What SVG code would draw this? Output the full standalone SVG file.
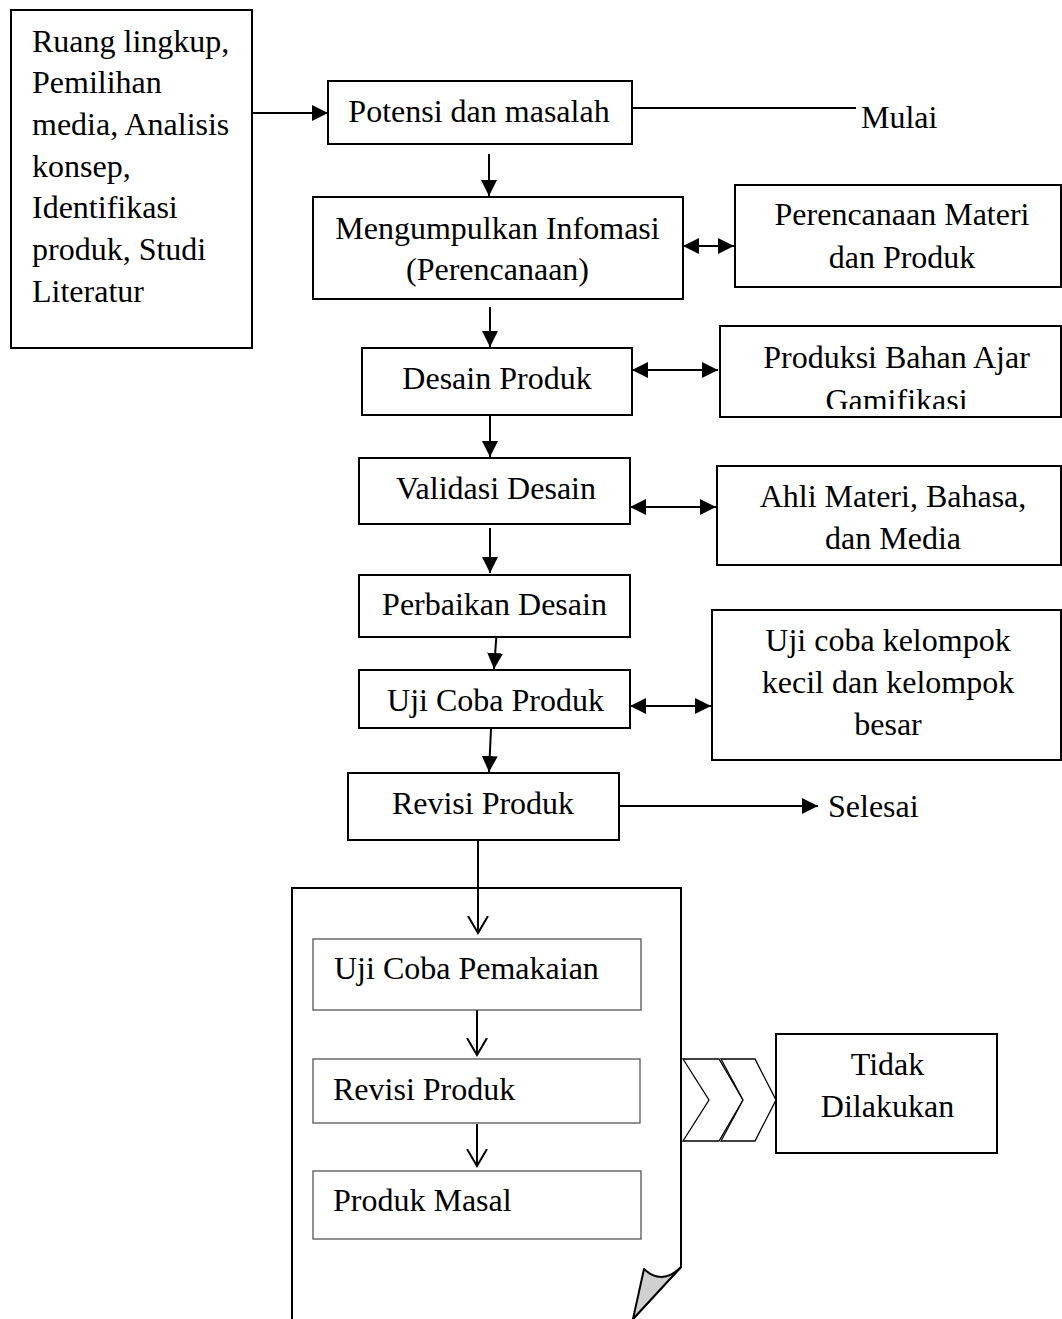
<svg xmlns="http://www.w3.org/2000/svg" width="1062" height="1319" viewBox="0 0 1062 1319">
<style>
  text { font-family: "Liberation Serif", "Times New Roman", serif; font-size: 32px; fill: #000; }
  .c { text-anchor: middle; }
  .box { fill: #fff; stroke: #000; stroke-width: 2; }
  .ibox { fill: #fff; stroke: #555; stroke-width: 1.3; }
  .ln { fill: none; stroke: #000; stroke-width: 2; }
  .arr { fill: none; stroke: #000; stroke-width: 2; marker-end: url(#ah); }
  .darr { fill: none; stroke: #000; stroke-width: 2; marker-start: url(#ah); marker-end: url(#ah); }
  .varr { fill: none; stroke: #000; stroke-width: 2; marker-end: url(#vh); }
  .chev { fill: #fff; stroke: #000; stroke-width: 1.3; }
</style>
<defs>
  <marker id="ah" markerUnits="userSpaceOnUse" markerWidth="16" markerHeight="16" refX="16" refY="8" orient="auto-start-reverse">
    <path d="M0,0 L16,8 L0,16 z" fill="#000"/>
  </marker>
  <marker id="vh" markerUnits="userSpaceOnUse" markerWidth="20" markerHeight="22" refX="17" refY="11" orient="auto">
    <path d="M0,1 L17,11 L0,21" fill="none" stroke="#000" stroke-width="2"/>
  </marker>
  <clipPath id="clipProd"><rect x="720" y="326" width="342" height="83"/></clipPath>
</defs>
<rect width="1062" height="1319" fill="#fff"/>

<g id="document">
  <path d="M292,1319 L292,888 L681,888 L681,1267 L633,1319" class="ln"/>
  <path d="M644,1269 Q662,1286 681,1267 L633,1319 Z" fill="#d0d0d0" stroke="#000" stroke-width="2" stroke-linejoin="round"/>
</g>

<g id="connectors">
  <line x1="252" y1="113" x2="328" y2="113" class="arr"/>
  <line x1="632" y1="108" x2="856" y2="108" class="ln"/>
  <line x1="489" y1="154" x2="489" y2="196" class="arr"/>
  <line x1="683" y1="246" x2="734" y2="246" class="darr"/>
  <line x1="490" y1="307" x2="490" y2="347" class="arr"/>
  <line x1="632" y1="370" x2="718" y2="370" class="darr"/>
  <line x1="490" y1="416" x2="490" y2="457" class="arr"/>
  <line x1="630" y1="507" x2="716" y2="507" class="darr"/>
  <line x1="490" y1="528" x2="490" y2="573" class="arr"/>
  <line x1="497" y1="628" x2="494" y2="669" class="arr"/>
  <line x1="630" y1="706" x2="711" y2="706" class="darr"/>
  <line x1="491" y1="729" x2="489" y2="772" class="arr"/>
  <line x1="619" y1="806" x2="818" y2="806" class="arr"/>
  <line x1="478" y1="840" x2="478" y2="933" class="varr"/>
  <line x1="477" y1="1010" x2="477" y2="1055" class="varr"/>
  <line x1="477" y1="1124" x2="477" y2="1166" class="varr"/>
</g>

<g id="n-ruang">
  <rect x="11" y="10" width="241" height="338" class="box"/>
  <text x="32" y="51.5">Ruang lingkup,</text>
  <text x="32" y="93">Pemilihan</text>
  <text x="32" y="135">media, Analisis</text>
  <text x="32" y="176.5">konsep,</text>
  <text x="32" y="218">Identifikasi</text>
  <text x="32" y="260">produk, Studi</text>
  <text x="32" y="302">Literatur</text>
</g>

<g id="n-potensi">
  <rect x="328" y="81" width="304" height="63" class="box"/>
  <text x="479" y="121.5" class="c">Potensi dan masalah</text>
</g>

<g id="n-mulai">
  <text x="861" y="128">Mulai</text>
</g>

<g id="n-mengumpulkan">
  <rect x="313" y="197" width="370" height="102" class="box"/>
  <text x="497.5" y="239" class="c">Mengumpulkan Infomasi</text>
  <text x="497.5" y="280" class="c">(Perencanaan)</text>
</g>

<g id="n-perencanaan">
  <rect x="735" y="185" width="326" height="102" class="box"/>
  <text x="902" y="225" class="c">Perencanaan Materi</text>
  <text x="902" y="268" class="c">dan Produk</text>
</g>

<g id="n-desain">
  <rect x="362" y="348" width="270" height="67" class="box"/>
  <text x="497" y="389" class="c">Desain Produk</text>
</g>

<g id="n-produksi">
  <rect x="720" y="326" width="341" height="91" class="box"/>
  <g clip-path="url(#clipProd)">
    <text x="896.5" y="368" class="c">Produksi Bahan Ajar</text>
    <text x="896.5" y="411" class="c">Gamifikasi</text>
  </g>
</g>

<g id="n-validasi">
  <rect x="359" y="458" width="271" height="66" class="box"/>
  <text x="496" y="499" class="c">Validasi Desain</text>
</g>

<g id="n-ahli">
  <rect x="717" y="466" width="344" height="99" class="box"/>
  <text x="893" y="507" class="c">Ahli Materi, Bahasa,</text>
  <text x="893" y="549" class="c">dan Media</text>
</g>

<g id="n-perbaikan">
  <rect x="359" y="575" width="271" height="62" class="box"/>
  <text x="494.5" y="615" class="c">Perbaikan Desain</text>
</g>

<g id="n-ujicoba">
  <rect x="359" y="670" width="271" height="58" class="box"/>
  <text x="495.5" y="711" class="c">Uji Coba Produk</text>
</g>

<g id="n-kelompok">
  <rect x="712" y="610" width="349" height="150" class="box"/>
  <text x="888" y="651" class="c">Uji coba kelompok</text>
  <text x="888" y="693" class="c">kecil dan kelompok</text>
  <text x="888" y="735" class="c">besar</text>
</g>

<g id="n-revisi">
  <rect x="348" y="773" width="271" height="67" class="box"/>
  <text x="483" y="814" class="c">Revisi Produk</text>
</g>

<g id="n-selesai">
  <text x="828" y="817">Selesai</text>
</g>

<g id="n-pemakaian">
  <rect x="313" y="939" width="328" height="71" class="ibox"/>
  <text x="334" y="979">Uji Coba Pemakaian</text>
</g>

<g id="n-revisi2">
  <rect x="313" y="1059" width="327" height="64" class="ibox"/>
  <text x="333" y="1100">Revisi Produk</text>
</g>

<g id="n-masal">
  <rect x="313" y="1171" width="328" height="68" class="ibox"/>
  <text x="333" y="1211">Produk Masal</text>
</g>

<g id="n-chevrons">
  <path d="M683,1059 L719,1059 L743,1100 L719,1141 L683,1141 L709,1100 Z" class="chev"/>
  <path d="M721,1059 L755,1059 L776,1100 L755,1141 L721,1141 L743,1100 Z" class="chev"/>
</g>

<g id="n-tidak">
  <rect x="776" y="1034" width="221" height="119" class="box"/>
  <text x="887.5" y="1075" class="c">Tidak</text>
  <text x="887.5" y="1117" class="c">Dilakukan</text>
</g>
</svg>
